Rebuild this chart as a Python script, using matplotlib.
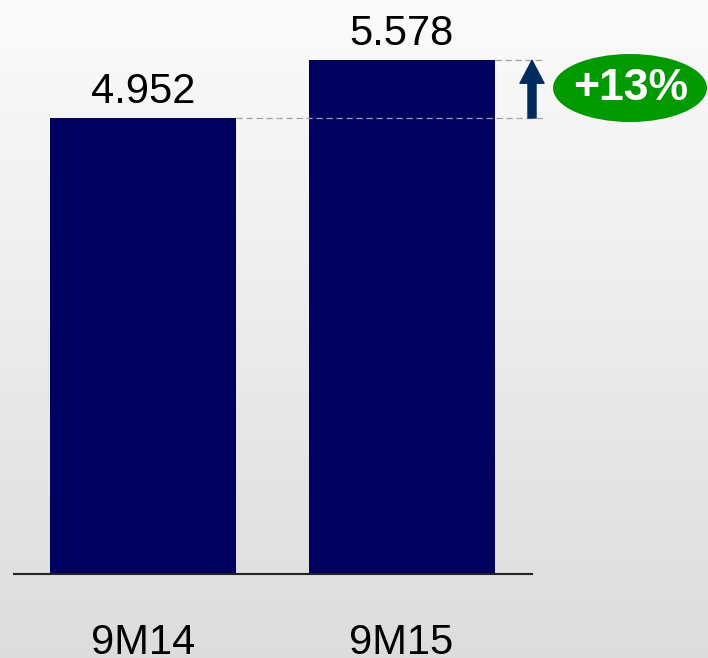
import numpy as np
import matplotlib
matplotlib.use("Agg")
import matplotlib.pyplot as plt
from matplotlib.patches import Ellipse, FancyArrowPatch

categories = ["9M14", "9M15"]
values = [4.952, 5.578]
value_labels = ["4.952", "5.578"]
growth_label = "+13%"

plt.rcParams['font.family'] = ['Liberation Sans', 'DejaVu Sans']

W, H = 708, 658
fig = plt.figure(figsize=(W / 100, H / 100), dpi=100)

# gradient background
bg = fig.add_axes([0, 0, 1, 1], zorder=-10)
grad = np.linspace(0, 1, 256).reshape(-1, 1)
top = np.array([0.985, 0.985, 0.985])
bot = np.array([0.865, 0.865, 0.865])
img = top + (bot - top) * grad[..., None] * np.ones((1, 1, 3))
bg.imshow(img.reshape(256, 1, 3), aspect='auto', extent=[0, 1, 0, 1])
bg.axis('off')

# main axes: baseline at y=574 px, spanning x 14..532 px
ax_left, ax_right = 14, 532
base_y = 574
ax = fig.add_axes([ax_left / W, (H - base_y) / H, (ax_right - ax_left) / W, base_y / H])
ax.patch.set_alpha(0)
px_per_unit = (574 - 118) / values[0]
ax.set_ylim(0, base_y / px_per_unit)
c0, c1 = 143, 401.5
spacing = c1 - c0
ax.set_xlim(-(c0 - ax_left) / spacing, 1 + (ax_right - c1) / spacing)

x = np.arange(len(categories))
bw = 186 / spacing
ax.bar(x, values, width=bw, color='#00005E', zorder=2)

for s in ['top', 'right', 'left']:
    ax.spines[s].set_visible(False)
ax.spines['bottom'].set_color('#222222')
ax.spines['bottom'].set_linewidth(1.5)
ax.set_yticks([])
ax.set_xticks(x)
ax.set_xticklabels(categories, fontsize=30)
ax.tick_params(axis='x', length=0, pad=35)

for xi, v, lab in zip(x, values, value_labels):
    ax.text(xi, v + 6 / px_per_unit, lab, ha='center', va='bottom', fontsize=30, color='black')

# dashed reference lines
x_end = 1 + (543 - c1) / spacing
ax.plot([x[0] + bw / 2, x_end], [values[0]] * 2, ls=(0, (5, 3)), color='#A0A0A0', lw=0.9,
        clip_on=False, zorder=3)
ax.plot([x[1] + bw / 2, x_end], [values[1]] * 2, ls=(0, (5, 3)), color='#A0A0A0', lw=0.9,
        clip_on=False, zorder=3)

# arrow
xa = 1 + (532 - c1) / spacing
arr = FancyArrowPatch((xa, values[0]), (xa, values[1]),
                      arrowstyle='simple,head_width=1.73,head_length=1.65,tail_width=0.58',
                      mutation_scale=10, color='#002B5C', shrinkA=0, shrinkB=0,
                      clip_on=False, zorder=4)
ax.add_patch(arr)

# green ellipse with growth label
ell = Ellipse((630 / W, (H - 88) / H), 154 / W, 68 / H, transform=fig.transFigure,
              facecolor='#009900', edgecolor='none', zorder=5)
fig.patches.append(ell)
fig.text(631 / W, (H - 89) / H, growth_label, ha='center', va='center', fontsize=32,
         fontweight='bold', color='white', zorder=6)

fig.savefig('out.png', dpi=100)
